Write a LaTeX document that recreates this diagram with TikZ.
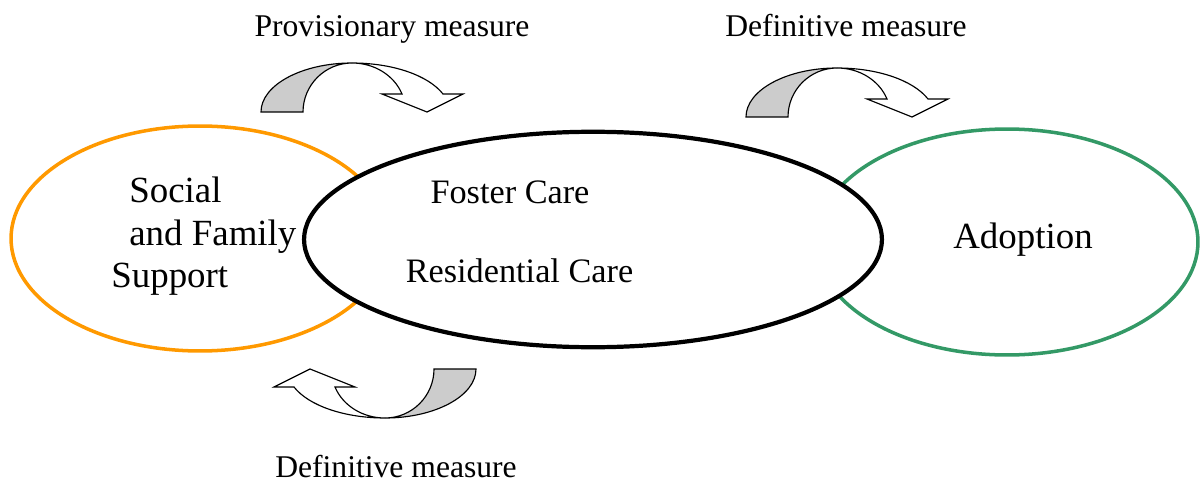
\documentclass[tikz,border=0pt]{standalone}
\usepackage{fontspec}
\setmainfont{Liberation Serif}
\usetikzlibrary{shapes.geometric, positioning}
\definecolor{supportcolor}{RGB}{255,153,0}
\definecolor{adoptcolor}{RGB}{51,153,102}
\definecolor{bandcolor}{RGB}{204,204,204}
\tikzstyle{area} = [ellipse, draw, inner sep=0pt]
\tikzstyle{bigtext} = [font=\fontsize{21}{25}\selectfont, inner sep=0pt]
\tikzstyle{midtext} = [font=\fontsize{19.5}{23}\selectfont, inner sep=0pt]
\tikzstyle{measuretext} = [font=\fontsize{18}{22}\selectfont, inner sep=0pt]
\tikzstyle{ribbon} = [draw, line width=0.65pt, line join=miter]
\tikzset{
  curvedarrow/.pic={
    \filldraw[ribbon, fill=bandcolor] (-91,49) .. controls (-91,22) and (-50,0) .. (0,0)
      .. controls (-27,0) and (-49,22) .. (-49,49) -- cycle;
    \filldraw[ribbon, fill=white] (0,0) .. controls (40,0) and (76,12) .. (91,31)
      -- (111,31) -- (75,49) -- (30,31) -- (50,31)
      .. controls (42,12) and (22,0) .. (0,0) -- cycle;
  }
}

\begin{document}
\begin{tikzpicture}[x=0.02cm, y=-0.02cm]
\useasboundingbox (0,0) rectangle (1200,483);

% Ellipses
\node[area, draw=supportcolor, line width=2pt, minimum width=7.56cm, minimum height=4.5cm] (support) at (200,238.5) {};
\node[area, draw=adoptcolor, line width=2pt, minimum width=7.64cm, minimum height=4.52cm] (adoption) at (1007,242) {};
\node[area, draw=black, fill=white, line width=2.4pt, minimum width=11.56cm, minimum height=4.31cm] (care) at (593,239.5) {};

% Texts in the ellipses
\node[bigtext, anchor=base west] (social) at (129,202) {Social};
\node[bigtext, anchor=base west] (family) at (129,245) {and Family};
\node[bigtext, anchor=base west] (supporttext) at (111,287) {Support};
\node[midtext, anchor=base] (foster) at (510,203) {Foster Care};
\node[midtext, anchor=base] (residential) at (519.5,282) {Residential Care};
\node[bigtext, anchor=base] (adopttext) at (1023,248) {Adoption};

% Curved arrows
\pic at (352,63) {curvedarrow};
\pic at (837,68) {curvedarrow};
\pic[rotate=180] at (385,418) {curvedarrow};

% Measure labels
\node[measuretext, anchor=base] (provisionary) at (392,37) {Provisionary measure};
\node[measuretext, anchor=base] (definitive) at (846,37) {Definitive measure};
\node[measuretext, anchor=base] (definitiveback) at (396,477) {Definitive measure};

\end{tikzpicture}
\end{document}
